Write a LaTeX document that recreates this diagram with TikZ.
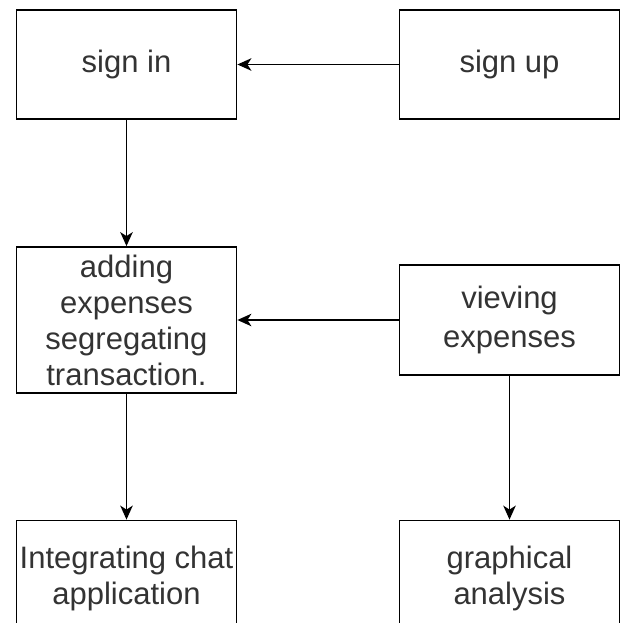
\documentclass[tikz,border=0pt]{standalone}
\usepackage{fontspec}
\setmainfont{Liberation Sans}
\usetikzlibrary{arrows.meta}
\definecolor{txt}{HTML}{333333}
\begin{document}
\begin{tikzpicture}[x=1pt,y=-1pt,
  box/.style={draw=black,line width=1.8pt,fill=white,rectangle,inner sep=0pt,text=txt,
    minimum width=220pt,align=center,font=\fontsize{31}{36}\selectfont},
  link/.style={line width=1.6pt,-{Stealth[length=14pt,width=12.5pt,inset=4pt]}}]
\clip (0,0) rectangle (621,623);
\fill[white] (0,0) rectangle (621,623);
\node[box,minimum height=109pt] (signin) at (126.5,64.5) {sign in};
\node[box,minimum height=109pt] (signup) at (509.5,64.5) {sign up};
\node[box,minimum height=146pt] (adding) at (126.5,320) {adding\\expenses\\segregating\\transaction.};
\node[box,minimum height=110pt] (vieving) at (509.5,320) {vieving\\[3pt]expenses};
\node[box,minimum height=116pt] (chat) at (126.5,578.5) {Integrating chat\\application};
\node[box,minimum height=116pt] (graph) at (509.5,578.5) {graphical\\analysis};
\draw[link] (signup) -- (signin);
\draw[link] (signin) -- (adding);
\draw[link] (vieving) -- (adding);
\draw[link] (adding) -- (chat);
\draw[link] (vieving) -- (graph);
\end{tikzpicture}
\end{document}
